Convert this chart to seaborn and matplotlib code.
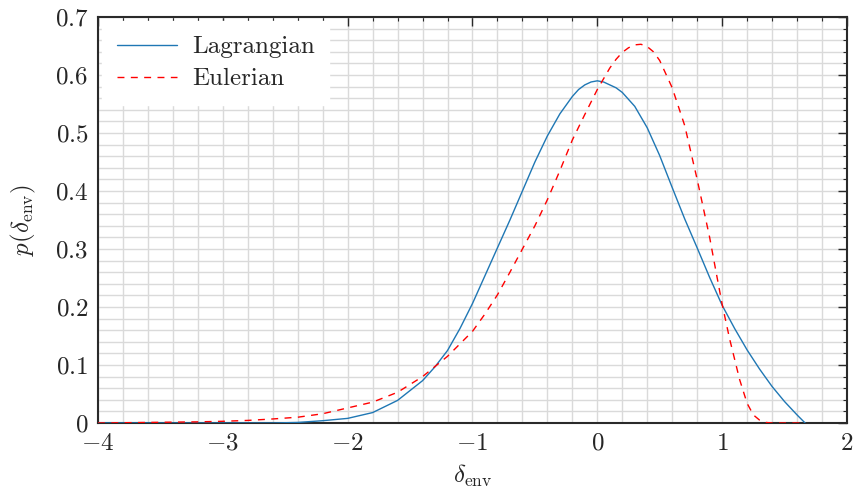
import numpy as np
import pandas as pd
import matplotlib
matplotlib.use("Agg")
import matplotlib.pyplot as plt
from matplotlib.ticker import MultipleLocator
import seaborn as sns

# Lagrangian environment density PDF
lag_delta = [-4.0, -3.0, -2.6, -2.4, -2.2, -2.0, -1.8, -1.6, -1.4, -1.3, -1.2, -1.1,
             -1.0, -0.9, -0.8, -0.7, -0.6, -0.5, -0.4, -0.3, -0.2, -0.15, -0.1, -0.05, 0.0,
             0.05, 0.1, 0.15, 0.2, 0.3, 0.4, 0.5, 0.6, 0.7, 0.8, 0.9, 1.0, 1.1, 1.2, 1.3,
             1.4, 1.5, 1.6, 1.665]
lag_p = [0.0, 0.0, 0.0, 0.001, 0.004, 0.008, 0.018, 0.039, 0.073, 0.097, 0.125, 0.163,
         0.206, 0.254, 0.302, 0.350, 0.400, 0.450, 0.495, 0.533, 0.563, 0.575, 0.583, 0.588, 0.590,
         0.588, 0.583, 0.578, 0.570, 0.546, 0.509, 0.461, 0.406, 0.352, 0.302, 0.251, 0.203, 0.163,
         0.126, 0.093, 0.063, 0.037, 0.014, 0.0]

# Eulerian environment density PDF
eul_delta = [-4.0, -3.6, -3.2, -3.0, -2.8, -2.6, -2.4, -2.2, -2.0, -1.8, -1.6, -1.4,
             -1.2, -1.0, -0.9, -0.8, -0.7, -0.6, -0.5, -0.4, -0.3, -0.2, -0.1, 0.0,
             0.1, 0.15, 0.2, 0.25, 0.3, 0.35, 0.4, 0.45, 0.5, 0.6, 0.7, 0.8, 0.9, 0.95, 1.0,
             1.06, 1.14, 1.2, 1.25, 1.3, 1.35, 1.4, 1.665]
eul_p = [0.0, 0.001, 0.002, 0.003, 0.0045, 0.007, 0.010, 0.016, 0.026, 0.036, 0.053, 0.080,
         0.115, 0.158, 0.188, 0.221, 0.260, 0.300, 0.340, 0.385, 0.435, 0.488, 0.532, 0.575,
         0.612, 0.627, 0.639, 0.647, 0.652, 0.653, 0.649, 0.640, 0.625, 0.578, 0.513, 0.420,
         0.320, 0.262, 0.205, 0.145, 0.075, 0.034, 0.014, 0.005, 0.001, 0.0, 0.0]

series_names = ["Lagrangian", "Eulerian"]

df = pd.concat([
    pd.DataFrame({"delta": lag_delta, "p": lag_p, "kind": series_names[0]}),
    pd.DataFrame({"delta": eul_delta, "p": eul_p, "kind": series_names[1]}),
], ignore_index=True)

sns.set_style("white")
plt.rcParams.update({
    "font.family": "serif",
    "font.serif": ["cmr10"],
    "mathtext.fontset": "cm",
    "axes.formatter.use_mathtext": True,
    "axes.unicode_minus": True,
})

FS = 18

fig = plt.figure(figsize=(8.55, 4.92), dpi=100)
ax = fig.add_axes([0.1146, 0.1402, 0.876, 0.8252])

sns.lineplot(data=df, x="delta", y="p", hue="kind", style="kind",
             palette={"Lagrangian": "#1f77b4", "Eulerian": "#ff0000"},
             dashes={"Lagrangian": "", "Eulerian": (5.0, 4.6)},
             linewidth=1.0, sort=False, estimator=None, ax=ax, zorder=3)

ax.set_xlim(-4, 2)
ax.set_ylim(0, 0.7)
ax.xaxis.set_major_locator(MultipleLocator(1))
ax.xaxis.set_minor_locator(MultipleLocator(0.2))
ax.yaxis.set_major_locator(MultipleLocator(0.1))
ax.yaxis.set_minor_locator(MultipleLocator(0.02))
ax.yaxis.set_major_formatter(plt.FuncFormatter(
    lambda v, _: r"$0$" if abs(v) < 1e-9 else r"$%.1f$" % v))
ax.xaxis.set_major_formatter(plt.FuncFormatter(
    lambda v, _: r"$%d$" % round(v) if v >= 0 else r"$-%d$" % round(-v)))

ax.grid(which="both", color="#dadada", linewidth=1.0, zorder=0)
ax.set_axisbelow(True)
ax.tick_params(which="both", direction="in", top=True, right=True,
               color="#2a2a2a", labelsize=FS)
ax.tick_params(which="major", length=6.5, width=1.0, pad=7)
ax.tick_params(which="minor", length=3.2, width=0.8)
for s in ax.spines.values():
    s.set_color("#2a2a2a")
    s.set_linewidth(1.5)

ax.set_xlabel(r"$\delta_{\rm env}$", fontsize=FS, labelpad=6)
ax.set_ylabel(r"$p(\delta_{\rm env})$", fontsize=FS, labelpad=12)

leg = ax.legend(loc="upper left", fontsize=FS, frameon=True, fancybox=False,
                handlelength=2.4, borderaxespad=0.15, handletextpad=0.6,
                labelspacing=0.38, borderpad=0.6)
leg.get_frame().set_facecolor("white")
leg.get_frame().set_edgecolor("white")
leg.get_frame().set_alpha(1.0)
leg.set_title(None)

fig.savefig("out.png", dpi=100)
